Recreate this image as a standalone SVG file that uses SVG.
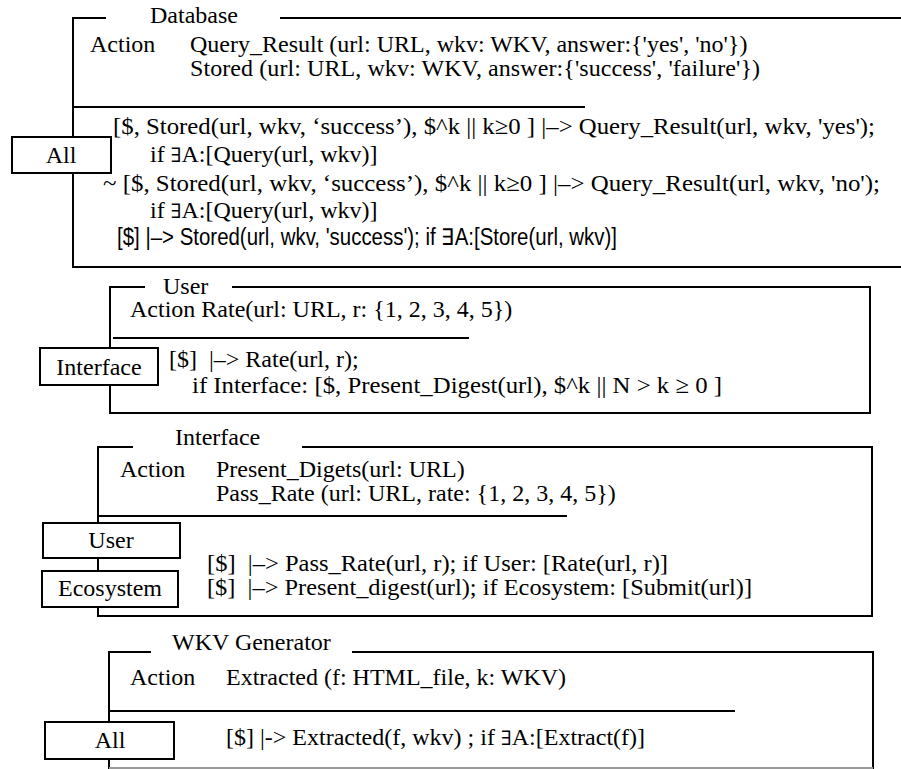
<svg xmlns="http://www.w3.org/2000/svg" width="901" height="769" viewBox="0 0 901 769">
<style>
  .t { font-family: "Liberation Serif", "Times New Roman", serif; font-size: 24px; fill: #000; white-space: pre; }
  .s { font-family: "Liberation Sans", Arial, sans-serif; font-size: 23px; fill: #000; white-space: pre; }
  .c { text-anchor: middle; }
  .ex { font-family: "DejaVu Serif", "DejaVu Sans", serif; font-size: 20px; }
  .ln { stroke: #000; stroke-width: 2; fill: none; }
  .box { stroke: #000; stroke-width: 2; fill: #fff; }
</style>
<rect width="901" height="769" fill="#fff"/>
<g id="connectors"></g>

<g id="database">
  <path class="ln" d="M106,18 H73 V267 H901 M280,18 H901 M73,107 H585"/>
  <text class="t" x="150" y="23">Database</text>
  <text class="t" x="90" y="52">Action</text>
  <text class="t" x="190" y="52">Query_Result (url: URL, wkv: WKV, answer:{'yes', 'no'})</text>
  <text class="t" x="190" y="76" textLength="570" lengthAdjust="spacing">Stored (url: URL, wkv: WKV, answer:{'success', 'failure'})</text>
  <text class="t" x="113" y="134" textLength="762" lengthAdjust="spacingAndGlyphs">[$, Stored(url, wkv, ‘success’), $^k || k≥0 ] |–&gt; Query_Result(url, wkv, 'yes');</text>
  <text class="t" x="150" y="162">if <tspan class="ex">∃</tspan>A:[Query(url, wkv)]</text>
  <text class="t" x="103" y="191" textLength="777" lengthAdjust="spacingAndGlyphs">~ [$, Stored(url, wkv, ‘success’), $^k || k≥0 ] |–&gt; Query_Result(url, wkv, 'no');</text>
  <text class="t" x="150" y="218">if <tspan class="ex">∃</tspan>A:[Query(url, wkv)]</text>
  <text class="s" x="117" y="245" textLength="500" lengthAdjust="spacingAndGlyphs">[$] |–&gt; Stored(url, wkv, 'success'); if ∃A:[Store(url, wkv)]</text>
</g>
<g id="database-all">
  <rect class="box" x="12" y="137" width="99" height="36"/>
  <text class="t c" x="61" y="163">All</text>
</g>

<g id="user">
  <path class="ln" d="M145,287 H110 V413 H870 V287 H232 M113,338 H469"/>
  <text class="t" x="163" y="294">User</text>
  <text class="t" x="130" y="317">Action Rate(url: URL, r: {1, 2, 3, 4, 5})</text>
  <text class="t" x="169" y="367">[$]  |–&gt; Rate(url, r);</text>
  <text class="t" x="192" y="393" textLength="530" lengthAdjust="spacingAndGlyphs">if Interface: [$, Present_Digest(url), $^k || N &gt; k ≥ 0 ]</text>
</g>
<g id="user-interface">
  <rect class="box" x="40" y="348" width="118" height="37"/>
  <text class="t c" x="99" y="375">Interface</text>
</g>

<g id="interface">
  <path class="ln" d="M133,447 H98 V616 H872 V447 H302 M98,516 H567"/>
  <text class="t" x="175" y="445">Interface</text>
  <text class="t" x="120" y="477">Action</text>
  <text class="t" x="216" y="477">Present_Digets(url: URL)</text>
  <text class="t" x="216" y="501">Pass_Rate (url: URL, rate: {1, 2, 3, 4, 5})</text>
  <text class="t" x="207" y="571" textLength="461" lengthAdjust="spacingAndGlyphs">[$]  |–&gt; Pass_Rate(url, r); if User: [Rate(url, r)]</text>
  <text class="t" x="207" y="595" textLength="545" lengthAdjust="spacingAndGlyphs">[$]  |–&gt; Present_digest(url); if Ecosystem: [Submit(url)]</text>
</g>
<g id="interface-user">
  <rect class="box" x="43" y="523" width="137" height="35"/>
  <text class="t c" x="111" y="548">User</text>
</g>
<g id="interface-ecosystem">
  <rect class="box" x="42" y="571" width="136" height="36"/>
  <text class="t c" x="110" y="596">Ecosystem</text>
</g>

<g id="wkv-generator">
  <path class="ln" d="M151,652 H109 V769 M352,652 H873 V769 M109,711 H735"/>
  <path d="M109,768 H873" stroke="#999" stroke-width="2"/>
  <text class="t" x="172" y="650">WKV Generator</text>
  <text class="t" x="130" y="685">Action</text>
  <text class="t" x="226" y="685">Extracted (f: HTML_file, k: WKV)</text>
  <text class="t" x="226" y="745">[$] |-&gt; Extracted(f, wkv) ; if <tspan class="ex">∃</tspan>A:[Extract(f)]</text>
</g>
<g id="wkv-all">
  <rect class="box" x="45" y="722" width="129" height="37"/>
  <text class="t c" x="110" y="748">All</text>
</g>
</svg>
